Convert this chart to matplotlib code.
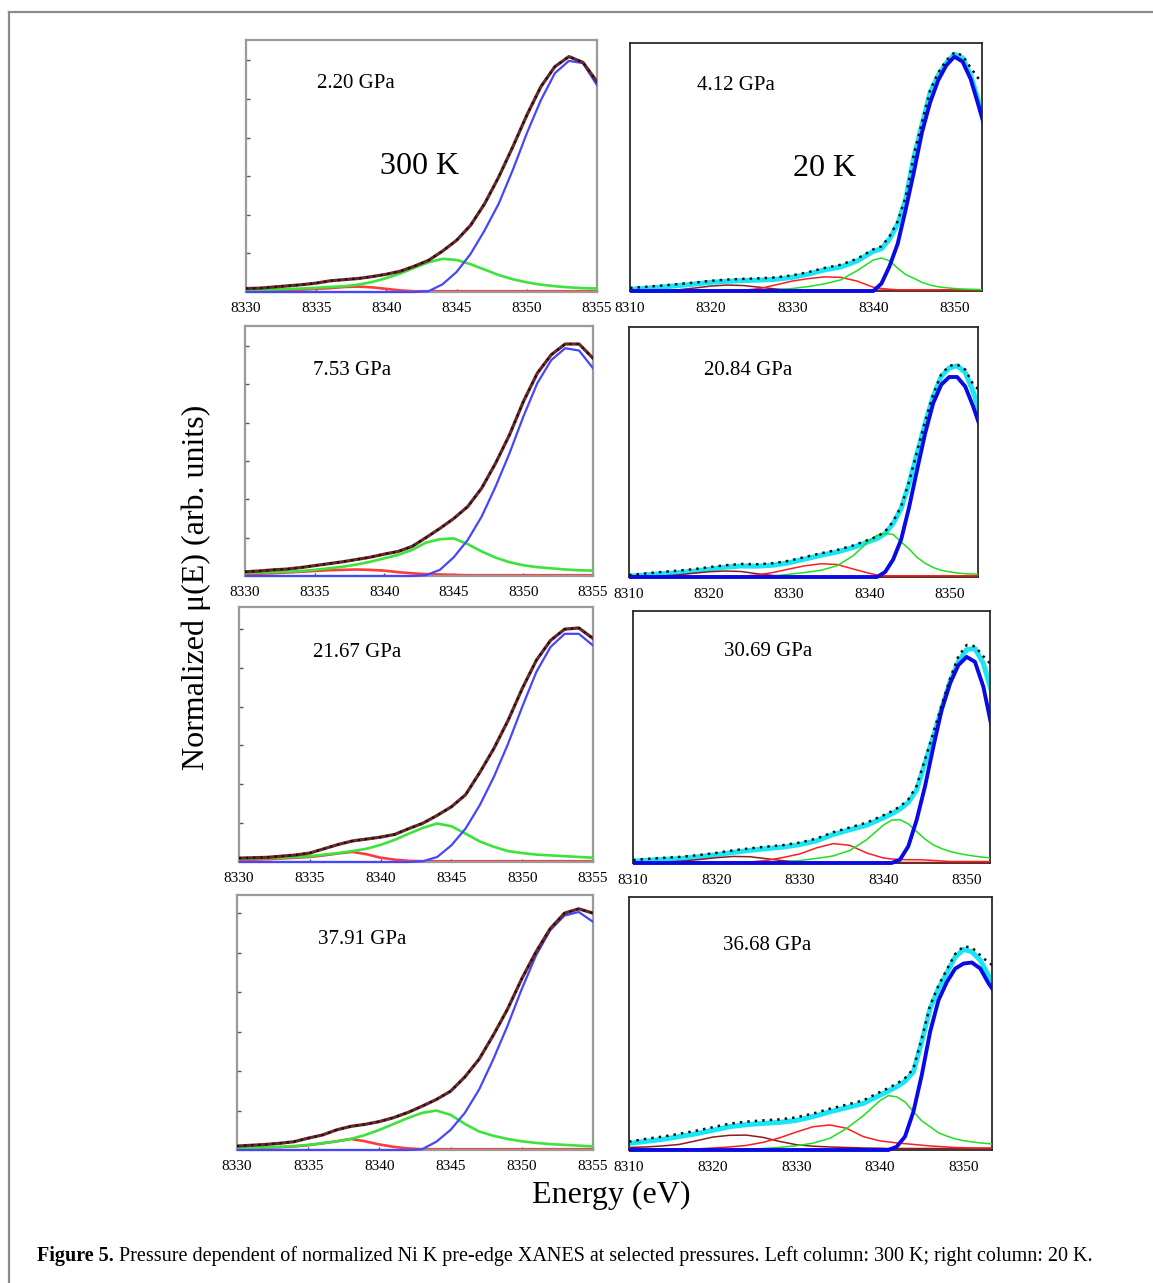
import matplotlib
matplotlib.use('Agg')
import matplotlib.pyplot as plt
from matplotlib.lines import Line2D
from matplotlib.patches import Rectangle

plt.rcParams['font.family'] = ['Liberation Serif', 'DejaVu Serif']

W, H = 1153, 1283

# ---------------- data ----------------
E_left = list(range(8330, 8356))
E_right = list(range(8310, 8341, 2)) + list(range(8341, 8355))

left_pressures = ['2.20 GPa', '7.53 GPa', '21.67 GPa', '37.91 GPa']
right_pressures = ['4.12 GPa', '20.84 GPa', '30.69 GPa', '36.68 GPa']
left_ticks = [8330, 8335, 8340, 8345, 8350, 8355]
right_ticks = [8310, 8320, 8330, 8340, 8350]

# 300 K column (units: left-axis tick spacing)
l1_total = [0.09, 0.10, 0.13, 0.16, 0.19, 0.23, 0.29, 0.32, 0.35, 0.40, 0.46, 0.54, 0.67,
            0.82, 1.06, 1.34, 1.73, 2.29, 2.98, 3.76, 4.58, 5.32, 5.84, 6.10, 5.95, 5.45]
l1_blue = [0.0] * 13 + [0.02, 0.20, 0.52, 0.99, 1.60, 2.29, 3.16, 4.11, 4.97, 5.67, 5.99, 5.93, 5.36]
l1_green = [0.05, 0.06, 0.07, 0.08, 0.09, 0.11, 0.13, 0.15, 0.19, 0.26, 0.36, 0.48, 0.63,
            0.77, 0.86, 0.83, 0.72, 0.58, 0.44, 0.33, 0.25, 0.19, 0.15, 0.12, 0.10, 0.09]
l1_red = [0.03, 0.03, 0.04, 0.05, 0.06, 0.08, 0.10, 0.13, 0.14, 0.12, 0.08, 0.04, 0.02] + [0.02] * 13

l2_total = [0.11, 0.13, 0.16, 0.18, 0.22, 0.27, 0.32, 0.37, 0.43, 0.49, 0.57, 0.64, 0.77,
            1.00, 1.24, 1.50, 1.81, 2.29, 2.94, 3.68, 4.55, 5.29, 5.77, 6.05, 6.05, 5.68]
l2_blue = [0.0] * 13 + [0.02, 0.16, 0.49, 0.94, 1.55, 2.33, 3.20, 4.16, 5.03, 5.63, 5.94, 5.88, 5.42]
l2_green = [0.08, 0.09, 0.10, 0.11, 0.13, 0.16, 0.20, 0.24, 0.30, 0.37, 0.46, 0.55, 0.68,
            0.87, 0.96, 0.98, 0.83, 0.64, 0.48, 0.36, 0.28, 0.23, 0.20, 0.17, 0.15, 0.14]
l2_red = [0.05, 0.06, 0.07, 0.09, 0.11, 0.13, 0.15, 0.16, 0.17, 0.16, 0.14, 0.10, 0.07,
          0.05, 0.04, 0.03] + [0.02] * 10

l3_total = [0.10, 0.11, 0.12, 0.15, 0.18, 0.23, 0.34, 0.45, 0.54, 0.59, 0.64, 0.71, 0.86,
            1.00, 1.20, 1.42, 1.73, 2.30, 2.92, 3.64, 4.46, 5.19, 5.70, 5.99, 6.02, 5.75]
l3_blue = [0.0] * 13 + [0.02, 0.13, 0.43, 0.86, 1.46, 2.19, 3.04, 3.99, 4.89, 5.53, 5.87, 5.87, 5.57]
l3_green = [0.08, 0.09, 0.10, 0.11, 0.13, 0.15, 0.19, 0.23, 0.28, 0.34, 0.44, 0.57, 0.73,
            0.88, 0.99, 0.92, 0.73, 0.53, 0.39, 0.28, 0.23, 0.19, 0.17, 0.15, 0.13, 0.11]
l3_red = [0.05, 0.06, 0.07, 0.09, 0.11, 0.13, 0.17, 0.22, 0.26, 0.20, 0.11, 0.06, 0.03] + [0.02] * 13

l4_total = [0.10, 0.12, 0.14, 0.17, 0.21, 0.30, 0.38, 0.51, 0.60, 0.65, 0.72, 0.82, 0.95,
            1.11, 1.28, 1.49, 1.85, 2.30, 2.91, 3.57, 4.34, 5.02, 5.61, 6.00, 6.11, 6.00]
l4_blue = [0.0] * 13 + [0.02, 0.21, 0.51, 0.94, 1.53, 2.30, 3.15, 4.08, 4.93, 5.57, 5.94, 6.03, 5.78]
l4_green = [0.04, 0.05, 0.07, 0.08, 0.10, 0.13, 0.17, 0.22, 0.28, 0.38, 0.51, 0.66, 0.81,
            0.94, 1.00, 0.89, 0.66, 0.47, 0.36, 0.28, 0.22, 0.18, 0.15, 0.13, 0.11, 0.09]
l4_red = [0.04, 0.05, 0.06, 0.07, 0.09, 0.12, 0.17, 0.22, 0.28, 0.22, 0.14, 0.08, 0.04] + [0.02] * 13

# 20 K column (fraction of panel height)
r1_data = [0.012, 0.017, 0.022, 0.028, 0.034, 0.041, 0.046, 0.049, 0.051, 0.055, 0.063, 0.076,
           0.093, 0.106, 0.130, 0.168, 0.180, 0.220, 0.280, 0.380, 0.550, 0.680, 0.810, 0.880,
           0.930, 0.962, 0.950, 0.900, 0.855, 0.830]
r1_total = [0.007, 0.011, 0.016, 0.022, 0.028, 0.035, 0.039, 0.042, 0.044, 0.047, 0.055, 0.068,
            0.085, 0.097, 0.121, 0.160, 0.170, 0.210, 0.270, 0.370, 0.540, 0.670, 0.800, 0.870,
            0.920, 0.955, 0.940, 0.870, 0.760, 0.640]
r1_blue = [0.0] * 16 + [0.03, 0.10, 0.19, 0.33, 0.48, 0.64, 0.76, 0.85, 0.91, 0.945, 0.925,
                        0.855, 0.745, 0.63]
r1_green = [0.002] * 8 + [0.003, 0.005, 0.010, 0.018, 0.029, 0.045, 0.082, 0.125,
                          0.133, 0.122, 0.092, 0.066, 0.051, 0.035, 0.024, 0.017, 0.013, 0.010,
                          0.008, 0.007, 0.006, 0.005]
r1_red = [0.003] * 8 + [0.010, 0.025, 0.040, 0.050, 0.057, 0.055, 0.040, 0.015,
                        0.010, 0.007] + [0.005] * 12
r1_darkred = [0.002, 0.002, 0.003, 0.005, 0.012, 0.020, 0.024, 0.022, 0.015, 0.008, 0.004] + [0.003] * 19

r2_data = [0.008, 0.014, 0.020, 0.025, 0.031, 0.039, 0.047, 0.052, 0.051, 0.055, 0.065, 0.080,
           0.095, 0.108, 0.126, 0.150, 0.162, 0.182, 0.222, 0.282, 0.382, 0.503, 0.623, 0.730,
           0.810, 0.845, 0.850, 0.830, 0.770, 0.740]
r2_total = [0.003, 0.008, 0.013, 0.017, 0.023, 0.031, 0.039, 0.044, 0.043, 0.047, 0.057, 0.072,
            0.087, 0.100, 0.118, 0.142, 0.154, 0.174, 0.214, 0.274, 0.374, 0.495, 0.615, 0.722,
            0.802, 0.836, 0.845, 0.818, 0.742, 0.642]
r2_blue = [0.0] * 17 + [0.02, 0.07, 0.15, 0.28, 0.43, 0.575, 0.695, 0.769, 0.80, 0.80, 0.762,
                        0.682, 0.588]
r2_green = [0.002] * 9 + [0.004, 0.011, 0.018, 0.027, 0.045, 0.085, 0.145,
                          0.167, 0.174, 0.170, 0.140, 0.112, 0.078, 0.055, 0.038, 0.027, 0.021,
                          0.016, 0.013, 0.012, 0.011]
r2_red = [0.003] * 8 + [0.008, 0.018, 0.032, 0.045, 0.053, 0.050, 0.032, 0.015, 0.008] + [0.005] * 13
r2_darkred = [0.002, 0.002, 0.004, 0.008, 0.015, 0.021, 0.024, 0.022, 0.013, 0.006, 0.003] + [0.002] * 19

r3_data = [0.012, 0.017, 0.021, 0.025, 0.032, 0.040, 0.050, 0.058, 0.065, 0.071, 0.081, 0.097,
           0.122, 0.141, 0.160, 0.189, 0.205, 0.224, 0.252, 0.305, 0.410, 0.515, 0.625, 0.730,
           0.820, 0.865, 0.860, 0.820, 0.785, 0.770]
r3_total = [0.007, 0.011, 0.015, 0.018, 0.025, 0.033, 0.042, 0.050, 0.057, 0.063, 0.073, 0.088,
            0.113, 0.132, 0.150, 0.179, 0.195, 0.214, 0.240, 0.290, 0.396, 0.501, 0.613, 0.719,
            0.798, 0.847, 0.851, 0.792, 0.679, 0.550]
r3_blue = [0.0] * 17 + [0.013, 0.066, 0.17, 0.303, 0.46, 0.607, 0.712, 0.785, 0.818, 0.798,
                        0.70, 0.54, 0.40]
r3_green = [0.002] * 9 + [0.004, 0.010, 0.018, 0.028, 0.050, 0.092, 0.150,
                          0.170, 0.172, 0.155, 0.125, 0.095, 0.072, 0.057, 0.046, 0.038, 0.032,
                          0.027, 0.023, 0.020, 0.018]
r3_red = [0.004] * 8 + [0.010, 0.022, 0.036, 0.060, 0.077, 0.070, 0.040, 0.020,
                        0.016, 0.014, 0.013, 0.013, 0.012, 0.010, 0.008] + [0.006] * 7
r3_darkred = [0.002, 0.002, 0.004, 0.008, 0.014, 0.021, 0.026, 0.025, 0.017, 0.009, 0.004] + [0.002] * 19

r4_data = [0.033, 0.044, 0.053, 0.064, 0.076, 0.090, 0.104, 0.112, 0.117, 0.121, 0.129, 0.144,
           0.163, 0.179, 0.196, 0.229, 0.245, 0.262, 0.284, 0.321, 0.440, 0.571, 0.650, 0.713,
           0.775, 0.805, 0.800, 0.770, 0.740, 0.720]
r4_total = [0.026, 0.034, 0.042, 0.053, 0.064, 0.078, 0.092, 0.100, 0.105, 0.109, 0.117, 0.132,
            0.151, 0.167, 0.184, 0.217, 0.233, 0.250, 0.272, 0.309, 0.428, 0.559, 0.638, 0.701,
            0.763, 0.793, 0.783, 0.750, 0.688, 0.638]
r4_blue = [0.0] * 17 + [0.013, 0.053, 0.151, 0.296, 0.467, 0.592, 0.664, 0.717, 0.737, 0.741,
                        0.717, 0.658, 0.61]
r4_green = [0.003] * 8 + [0.006, 0.010, 0.017, 0.027, 0.046, 0.085, 0.135, 0.195,
                          0.215, 0.210, 0.190, 0.152, 0.115, 0.092, 0.068, 0.055, 0.044, 0.037,
                          0.032, 0.028, 0.025, 0.022]
r4_red = [0.004] * 5 + [0.008, 0.012, 0.018, 0.030, 0.048, 0.071, 0.092, 0.099, 0.086, 0.053, 0.036,
                        0.032, 0.028, 0.025, 0.022, 0.019, 0.016, 0.014, 0.012, 0.010, 0.009,
                        0.008, 0.008, 0.008, 0.008]
r4_darkred = [0.010, 0.012, 0.016, 0.022, 0.036, 0.051, 0.058, 0.059, 0.050, 0.034, 0.021, 0.015,
              0.012, 0.010, 0.008, 0.007] + [0.006] * 14

left_sets = [(l1_total, l1_blue, l1_green, l1_red),
             (l2_total, l2_blue, l2_green, l2_red),
             (l3_total, l3_blue, l3_green, l3_red),
             (l4_total, l4_blue, l4_green, l4_red)]
right_sets = [(r1_data, r1_total, r1_blue, r1_green, r1_red, r1_darkred),
              (r2_data, r2_total, r2_blue, r2_green, r2_red, r2_darkred),
              (r3_data, r3_total, r3_blue, r3_green, r3_red, r3_darkred),
              (r4_data, r4_total, r4_blue, r4_green, r4_red, r4_darkred)]

# ---------------- layout (pixels) ----------------
left_boxes = [(246, 40, 597, 292), (245, 326, 593, 576), (239, 607, 593, 862), (237, 895, 593, 1150)]
right_boxes = [(630, 43, 982, 291), (629, 327, 978, 577), (633, 611, 990, 863), (629, 897, 992, 1150)]
left_ytop = [6.53, 6.52, 6.56, 6.46]
right_xmax = [8353.4, 8353.6, 8352.8, 8353.4]
left_label_pos = [(356, 83), (352, 371), (357, 653), (362, 940)]
right_label_pos = [(736, 86), (748, 371), (768, 652), (767, 946)]

fig = plt.figure(figsize=(W / 100, H / 100), dpi=100)
fig.patch.set_facecolor('white')


def add_ax(box):
    l, t, r, b = box
    return fig.add_axes([l / W, 1 - b / H, (r - l) / W, (b - t) / H])


def fx(x):
    return x / W


def fy(y):
    return 1 - y / H


def clipper(ax):
    # clip only left/right; allow lines to sit fully on the bottom spine
    return Rectangle((0, -0.05), 1, 1.1, transform=ax.transAxes, visible=False)


def draw(ax, x, y, **kw):
    ln, = ax.plot(x, y, **kw)
    ln.set_clip_path(clipper(ax))
    return ln


# left column (300 K)
for i, (tot, blu, grn, red) in enumerate(left_sets):
    ax = add_ax(left_boxes[i])
    draw(ax, E_left, red, color='#ff3b3b', lw=1.9, zorder=2)
    draw(ax, E_left, grn, color='#3be33b', lw=1.9, zorder=3)
    draw(ax, E_left, blu, color='#4646ff', lw=1.6, zorder=4)
    draw(ax, E_left, tot, color='#6a2828', lw=2.3, zorder=5)
    draw(ax, E_left, tot, color='#111111', lw=1.6, ls=(0, (1, 2.2)), zorder=6)
    ax.set_xlim(8330, 8355)
    ax.set_ylim(0, left_ytop[i])
    ax.set_xticks(left_ticks)
    ax.set_xticklabels([str(t) for t in left_ticks])
    ax.set_yticks([1, 2, 3, 4, 5, 6])
    ax.set_yticklabels([])
    ax.tick_params(axis='y', direction='in', length=3, width=1, color='#555555', left=True, right=False)
    ax.tick_params(axis='x', direction='in', length=2, width=1, color='#444444', pad=7, labelsize=11)
    for s in ax.spines.values():
        s.set_color('#9a9a9a')
        s.set_linewidth(1.6)
    x, y = left_label_pos[i]
    fig.text(fx(x), fy(y), left_pressures[i], fontsize=15, ha='center', va='center')

# right column (20 K)
for i, (dat, tot, blu, grn, red, dred) in enumerate(right_sets):
    ax = add_ax(right_boxes[i])
    draw(ax, E_right, tot, color='#19e6f5', lw=3.6, zorder=2)
    draw(ax, E_right, dred, color='#8b1c1c', lw=1.1, zorder=3)
    draw(ax, E_right, red, color='#ff1e1e', lw=1.1, zorder=3)
    draw(ax, E_right, grn, color='#1ee01e', lw=1.1, zorder=4)
    draw(ax, E_right, blu, color='#0a0ae6', lw=2.8, zorder=5)
    draw(ax, E_right, dat, color='#111111', lw=1.8, ls=(0, (1, 2.0)), zorder=6)
    ax.set_xlim(8310.2, right_xmax[i])
    ax.set_ylim(0, 1)
    ax.set_xticks(right_ticks)
    ax.set_xticklabels([str(t) for t in right_ticks])
    ax.set_yticks([])
    ax.tick_params(axis='x', length=0, pad=8, labelsize=11)
    for s in ax.spines.values():
        s.set_color('#2a2a2a')
        s.set_linewidth(1.3)
    x, y = right_label_pos[i]
    fig.text(fx(x), fy(y), right_pressures[i], fontsize=15, ha='center', va='center')

# column temperature labels
fig.text(fx(420), fy(167), '300 K', fontsize=23, ha='center', va='center')
fig.text(fx(825), fy(168), '20 K', fontsize=23, ha='center', va='center')

# axis titles
fig.text(fx(196), fy(587), 'Normalized \u03bc(E) (arb. units)', fontsize=23,
         rotation=90, ha='center', va='center')
fig.text(fx(611), fy(1195), 'Energy (eV)', fontsize=23, ha='center', va='center')

# outer frame lines
fig.add_artist(Line2D([fx(9), fx(9)], [0, fy(12)], transform=fig.transFigure,
                      color='#8c8c8c', lw=1.6))
fig.add_artist(Line2D([fx(9), 1], [fy(12), fy(12)], transform=fig.transFigure,
                      color='#8c8c8c', lw=1.6))

# caption
renderer = fig.canvas.get_renderer()
cap_bold = 'Figure 5.'
cap_rest = (' Pressure dependent of normalized Ni K pre-edge XANES at selected pressures. '
            'Left column: 300 K; right column: 20 K.')
size = 12
t1 = fig.text(fx(37), fy(1256), cap_bold, fontsize=size, fontweight='bold', ha='left', va='center')
t2 = fig.text(fx(37), fy(1256), cap_rest, fontsize=size, ha='left', va='center')
w1 = t1.get_window_extent(renderer).width
w2 = t2.get_window_extent(renderer).width
scale = (1090 - 37) / (w1 + w2)
size = size * scale
t1.set_fontsize(size)
t2.set_fontsize(size)
w1 = t1.get_window_extent(renderer).width
t2.set_position((fx(37 + w1), fy(1256)))

fig.savefig('out.png', dpi=100, facecolor='white')
